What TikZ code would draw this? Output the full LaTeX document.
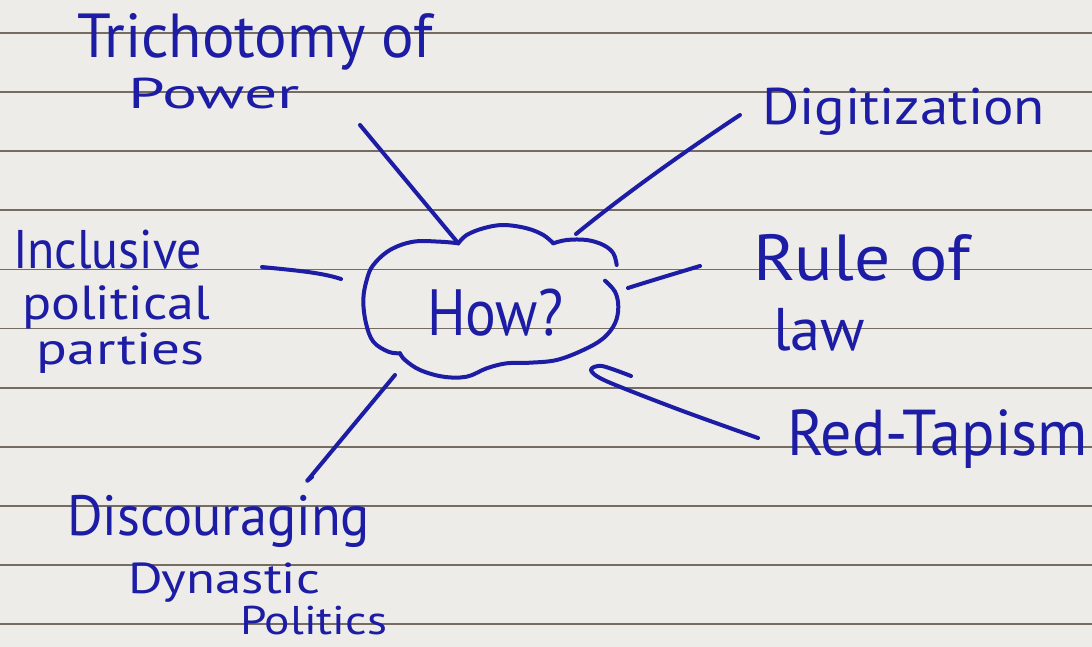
\documentclass[tikz,border=0pt]{standalone}
\usepackage{fontspec}
\setmainfont{PT Sans}
\usepackage{graphicx}
\definecolor{ink}{RGB}{28,28,165}
\definecolor{paper}{RGB}{237,236,233}
\definecolor{rulecol}{RGB}{118,108,98}
\newlength\hwW
\newlength\hwH
% #1 target width, #2 target ascent (top to baseline), #3 text
\newcommand{\hw}[3]{\settowidth\hwW{#3}\settoheight\hwH{#3}%
  \pgfmathsetmacro\hwsx{#1/\hwW}%
  \pgfmathsetmacro\hwsy{sqrt(\hwsx*(#2/\hwH))}%
  \scalebox{\hwsx}[\hwsy]{#3}}
\begin{document}
\begin{tikzpicture}[x=1pt,y=-1pt,
  pen/.style={draw=ink,line width=4pt,line cap=round,line join=round},
  lbl/.style={inner sep=0pt,outer sep=0pt,anchor=base west,text=ink},
  ruling/.style={draw=rulecol,line width=1.8pt}]
\fill[paper] (0,0) rectangle (1092,647);
\useasboundingbox (0,0) rectangle (1092,647);
\foreach \k in {0,...,10} \draw[ruling] (0,{33+59.1*\k}) -- (1092,{33+59.1*\k});

% labels (anchored at left end of the baseline)
\node[lbl] (tri1) at (77,58) {\hw{356}{45}{Trichotomy of}};
\node[lbl] (tri2) at (128,109) {\hw{172}{20}{Power}};
\node[lbl] (dig) at (762,125) {\hw{283}{33}{Digitization}};
\node[lbl] (inc1) at (13,268) {\hw{189}{42}{Inclusive}};
\node[lbl] (inc2) at (22,319) {\hw{188}{30}{political}};
\node[lbl] (inc3) at (37,364) {\hw{168}{25}{parties}};
\node[lbl] (how) at (427,335) {\hw{136}{53}{How?}};
\node[lbl] (rule1) at (753,280) {\hw{217}{42}{Rule of}};
\node[lbl] (rule2) at (773,350) {\hw{92}{42}{law}};
\node[lbl] (red) at (787,455) {\hw{301}{48}{Red-Tapism}};
\node[lbl] (dis1) at (67,535) {\hw{303}{42}{Discouraging}};
\node[lbl] (dis2) at (128,593) {\hw{192}{25}{Dynastic}};
\node[lbl] (dis3) at (240,634) {\hw{147}{24}{Politics}};

% cloud around "How?"
\coordinate (cTop) at (458.3,243.3);
\coordinate (cTopR) at (576,234);
\coordinate (cLeft) at (341,279);
\coordinate (cRight) at (628,288);
\coordinate (cBotL) at (395,375);
\draw[pen] plot[smooth,tension=0.6] coordinates {(616.7,265) (613.3,253.3) (603.3,245) (586.7,240) (566.7,240) (553.3,243.3)};
\draw[pen] plot[smooth,tension=0.6] coordinates {(553.3,243.3) (543.3,235) (526.7,228.3) (503.3,225) (483.3,228.3) (466.7,235) (458.3,243.3)};
\draw[pen] plot[smooth,tension=0.6] coordinates {(458.3,243.3) (440,241.7) (413.3,241.7) (390,250) (373.3,265) (366.7,280) (363.3,300) (366,323.3) (373.3,341.7) (388.3,351.7) (400,353.3)};
\draw[pen] plot[smooth,tension=0.6] coordinates {(400,353.3) (405,360) (420,370) (443.3,376.7) (466.7,376.7) (486.7,368.3) (506.7,363.3) (530,362.7) (556.7,360) (583.3,350) (603.3,338.3) (615,323.3) (618.3,306.7) (615,291.7) (605,280.7)};

% connector free ends near labels
\coordinate (eTri) at (360,125);
\coordinate (eDig) at (740,115);
\coordinate (eInc) at (262,267);
\coordinate (eRule) at (700,266);
\coordinate (eRed) at (758,438);
\coordinate (eDis) at (307,481);

\draw[pen] (eTri) -- (cTop);
\draw[pen] (cTopR) .. controls (630,190) and (690,148) .. (eDig);
\draw[pen] (eInc) .. controls (290,270) and (320,272) .. (cLeft);
\draw[pen] (cRight) .. controls (650,281) and (680,272) .. (eRule);
\draw[pen] plot[smooth,tension=0.5] coordinates {(631,376) (602,366) (591,370) (606,381) (680,410) (eRed)};
\draw[pen] (cBotL) -- (eDis) -- ++(5,-4);
\end{tikzpicture}
\end{document}
